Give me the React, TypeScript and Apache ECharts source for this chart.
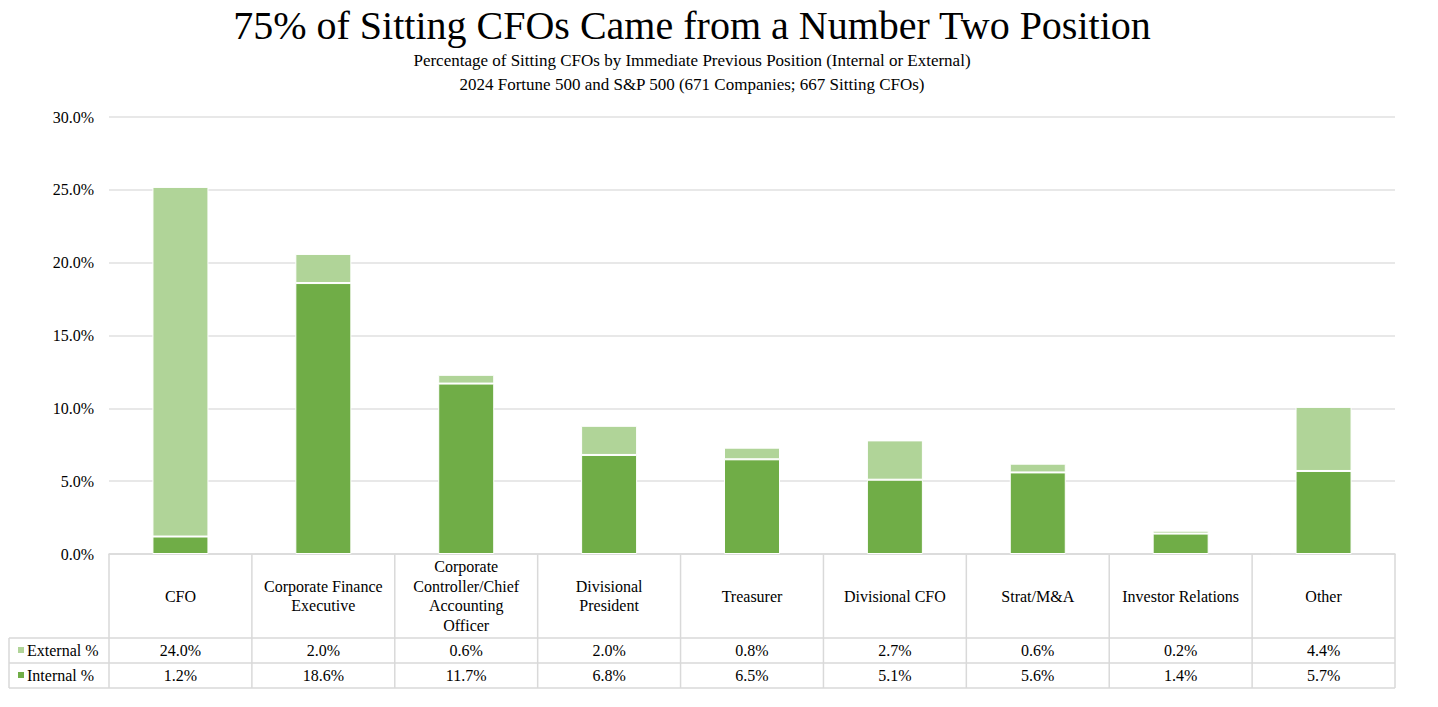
import { useEffect, useRef } from 'react'
import * as echarts from 'echarts'

const categories = [
  'CFO',
  'Corporate Finance\nExecutive',
  'Corporate\nController/Chief\nAccounting\nOfficer',
  'Divisional\nPresident',
  'Treasurer',
  'Divisional CFO',
  'Strat/M&A',
  'Investor Relations',
  'Other'
]
const externalPct = [24.0, 2.0, 0.6, 2.0, 0.8, 2.7, 0.6, 0.2, 4.4]
const internalPct = [1.2, 18.6, 11.7, 6.8, 6.5, 5.1, 5.6, 1.4, 5.7]

const FONT = 'Liberation Serif'
const LIGHT = '#B0D498'
const DARK = '#70AD47'
const LINE = '#D9D9D9'

// plot / table geometry (px)
const W = 1438
const H = 707
const PLOT_L = 109
const PLOT_R = 1395
const PLOT_T = 117
const AXIS_Y = 554
const ROW1_Y = 638
const ROW2_Y = 663
const ROW3_Y = 688
const LEGEND_L = 9

const App = () => {
  const chartRef = useRef<HTMLDivElement>(null)

  useEffect(() => {
    document.body.style.margin = '0'
    if (!chartRef.current) return
    const chart = echarts.init(chartRef.current, null, { renderer: 'svg' })

    const cellW = (PLOT_R - PLOT_L) / categories.length
    const tableLines: any[] = []
    // vertical borders
    for (let i = 0; i <= categories.length; i++) {
      const x = PLOT_L + i * cellW
      tableLines.push({
        type: 'line',
        shape: { x1: x, y1: AXIS_Y, x2: x, y2: ROW3_Y },
        style: { stroke: LINE, lineWidth: 1.5 }
      })
    }
    tableLines.push({
      type: 'line',
      shape: { x1: LEGEND_L, y1: ROW1_Y, x2: LEGEND_L, y2: ROW3_Y },
      style: { stroke: LINE, lineWidth: 1.5 }
    })
    // horizontal borders
    ;[ROW1_Y, ROW2_Y, ROW3_Y].forEach((y) => {
      tableLines.push({
        type: 'line',
        shape: { x1: LEGEND_L, y1: y, x2: PLOT_R, y2: y },
        style: { stroke: LINE, lineWidth: 1.5 }
      })
    })

    const rowAxis = (values: number[], margin: number) => ({
      type: 'category',
      data: categories,
      position: 'bottom',
      axisLine: { show: false },
      axisTick: { show: false },
      axisLabel: {
        interval: 0,
        margin,
        verticalAlign: 'middle',
        fontFamily: FONT,
        fontSize: 16,
        color: '#000',
        formatter: (_v: string, i: number) => values[i].toFixed(1) + '%'
      }
    })

    const option = {
      animation: false,
      backgroundColor: '#fff',
      textStyle: { fontFamily: FONT },
      title: [
        {
          text: '75% of Sitting CFOs Came from a Number Two Position',
          left: 687,
          top: 0,
          textAlign: 'center',
          textStyle: { fontFamily: FONT, fontSize: 40, fontWeight: 'normal', color: '#000' }
        },
        {
          text: 'Percentage of Sitting CFOs by Immediate Previous Position (Internal or External)\n2024 Fortune 500 and S&P 500 (671 Companies; 667 Sitting CFOs)',
          left: 687,
          top: 43,
          textAlign: 'center',
          textStyle: { fontFamily: FONT, fontSize: 17, fontWeight: 'normal', color: '#000', lineHeight: 24 }
        }
      ],
      legend: {
        orient: 'vertical',
        left: 11,
        top: 637,
        itemWidth: 8,
        itemHeight: 8,
        itemGap: 9,
        icon: 'rect',
        data: ['External %', 'Internal %'],
        textStyle: { fontFamily: FONT, fontSize: 16, color: '#000', padding: [0, 0, 0, -3] }
      },
      grid: {
        left: PLOT_L,
        right: W - PLOT_R,
        top: PLOT_T,
        bottom: H - AXIS_Y,
        containLabel: false
      },
      xAxis: [
        {
          type: 'category',
          data: categories,
          axisLine: { show: true, lineStyle: { color: LINE, width: 1.5 } },
          axisTick: { show: false },
          axisLabel: {
            interval: 0,
            margin: 42,
            verticalAlign: 'middle',
            fontFamily: FONT,
            fontSize: 16,
            lineHeight: 19.5,
            color: '#000'
          }
        },
        rowAxis(externalPct, 96),
        rowAxis(internalPct, 121)
      ],
      yAxis: {
        type: 'value',
        min: 0,
        max: 30,
        interval: 5,
        axisLine: { show: false },
        axisTick: { show: false },
        splitLine: { lineStyle: { color: '#E0E0E0', width: 1.5 } },
        axisLabel: {
          margin: 15,
          fontFamily: FONT,
          fontSize: 16,
          color: '#000',
          formatter: (v: number) => v.toFixed(1) + '%'
        }
      },
      series: [
        {
          name: 'Internal %',
          type: 'bar',
          stack: 'total',
          barWidth: 56,
          data: internalPct,
          itemStyle: { color: DARK, borderColor: '#fff', borderWidth: 1 }
        },
        {
          name: 'External %',
          type: 'bar',
          stack: 'total',
          barWidth: 56,
          data: externalPct,
          itemStyle: { color: LIGHT, borderColor: '#fff', borderWidth: 1 }
        }
      ],
      graphic: tableLines
    }

    chart.setOption(option)
    return () => chart.dispose()
  }, [])

  return <div ref={chartRef} style={{ width: W, height: H }} />
}

export default App
